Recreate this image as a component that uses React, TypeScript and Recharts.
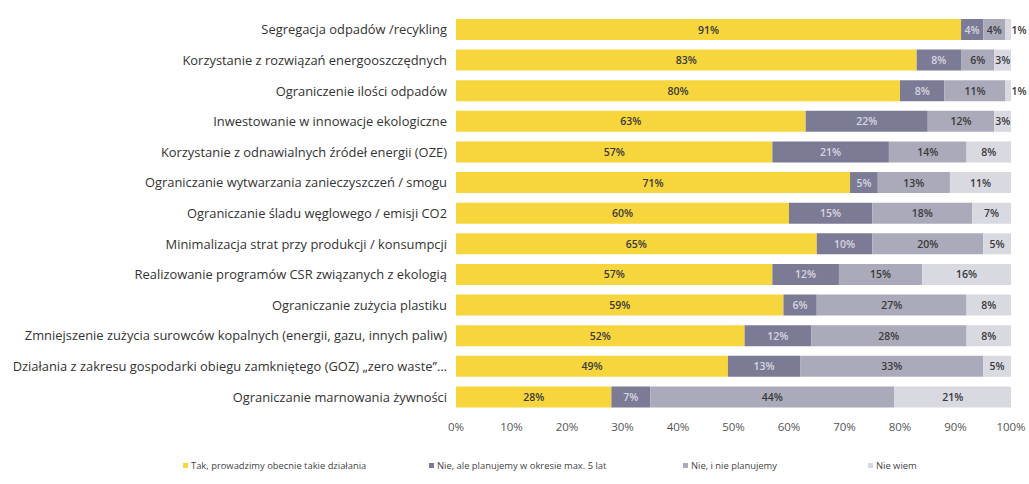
import { BarChart, Bar, XAxis, YAxis, LabelList } from "recharts";

const categories = [
    "Segregacja odpadów /recykling",
    "Korzystanie z rozwiązań energooszczędnych",
    "Ograniczenie ilości odpadów",
    "Inwestowanie w innowacje ekologiczne",
    "Korzystanie z odnawialnych źródeł energii (OZE)",
    "Ograniczanie wytwarzania zanieczyszczeń / smogu",
    "Ograniczanie śladu węglowego / emisji CO2",
    "Minimalizacja strat przy produkcji / konsumpcji",
    "Realizowanie programów CSR związanych z ekologią",
    "Ograniczanie zużycia plastiku",
    "Zmniejszenie zużycia surowców kopalnych (energii, gazu, innych paliw)",
    "Działania z zakresu gospodarki obiegu zamkniętego (GOZ) „zero waste”…",
    "Ograniczanie marnowania żywności",
];

const tak = [91, 83, 80, 63, 57, 71, 60, 65, 57, 59, 52, 49, 28];
const planujemy = [4, 8, 8, 22, 21, 5, 15, 10, 12, 6, 12, 13, 7];
const nie = [4, 6, 11, 12, 14, 13, 18, 20, 15, 27, 28, 33, 44];
const nieWiem = [1, 3, 1, 3, 8, 11, 7, 5, 16, 8, 8, 5, 21];

const xTicks = [0, 10, 20, 30, 40, 50, 60, 70, 80, 90, 100];

const series = [
    { key: "tak", name: "Tak, prowadzimy obecnie takie działania", color: "#F7D53C", text: "#3a3a3a" },
    { key: "planujemy", name: "Nie, ale planujemy w okresie max. 5 lat", color: "#7C7B95", text: "#d6d6e0" },
    { key: "nie", name: "Nie, i nie planujemy", color: "#ABAABA", text: "#3a3a3a" },
    { key: "nieWiem", name: "Nie wiem", color: "#D9D9E2", text: "#3a3a3a" },
];

const legendX = [183, 429, 683, 868];

const data = categories.map((name, i) => ({
    name,
    tak: tak[i],
    planujemy: planujemy[i],
    nie: nie[i],
    nieWiem: nieWiem[i],
}));

const FONT = "'Open Sans', sans-serif";

function makeLabel(color: string) {
    return (props: any) => {
        const { x, y, width, height, value } = props;
        const small = value <= 1;
        const cx = small ? x + width + 8 : x + width / 2;
        return (
            <text
                x={cx}
                y={y + height / 2}
                fill={small ? "#3a3a3a" : color}
                fontSize={10.5}
                fontWeight={600}
                textAnchor="middle"
                dominantBaseline="central"
                fontFamily={FONT}
            >
                {value}%
            </text>
        );
    };
}

function CategoryTick(props: any) {
    const { x, y, payload } = props;
    return (
        <text x={x} y={y} textAnchor="end" dominantBaseline="central" fill="#333" fontSize={12.9} fontFamily={FONT}>
            {payload.value}
        </text>
    );
}

export default function App() {
    return (
        <div style={{ position: "absolute", left: 0, top: 0, width: 1029, height: 484, background: "#fff", fontFamily: FONT }}>
            <BarChart
                width={1029}
                height={484}
                data={data}
                layout="vertical"
                margin={{ top: 14, right: 18, bottom: 52, left: 0 }}
                barSize={21}
            >
                <XAxis
                    type="number"
                    domain={[0, 100]}
                    ticks={xTicks}
                    tickFormatter={(v) => `${v}%`}
                    axisLine={false}
                    tickLine={false}
                    tickSize={0}
                    tickMargin={11}
                    height={20}
                    tick={{ fill: "#555", fontSize: 11.5, fontFamily: FONT }}
                />
                <YAxis
                    type="category"
                    dataKey="name"
                    width={456}
                    axisLine={false}
                    tickLine={false}
                    tickSize={0}
                    tickMargin={9}
                    interval={0}
                    tick={<CategoryTick />}
                />
                {series.map((s) => (
                    <Bar key={s.key} dataKey={s.key} name={s.name} stackId="a" fill={s.color} isAnimationActive={false}>
                        <LabelList dataKey={s.key} content={makeLabel(s.text)} />
                    </Bar>
                ))}
            </BarChart>
            {series.map((s, i) => (
                <div
                    key={s.key}
                    style={{
                        position: "absolute",
                        left: legendX[i],
                        top: 459,
                        display: "flex",
                        alignItems: "center",
                        fontSize: 9.4,
                        color: "#444",
                        whiteSpace: "nowrap",
                    }}
                >
                    <span style={{ display: "inline-block", width: 5, height: 5, background: s.color, marginRight: 3 }} />
                    {s.name}
                </div>
            ))}
        </div>
    );
}
